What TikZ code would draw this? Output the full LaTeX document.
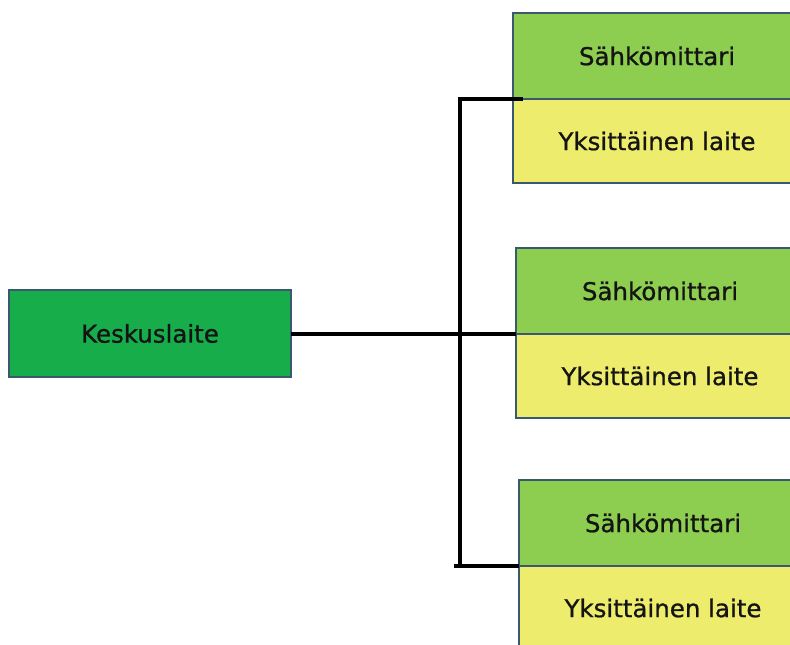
\documentclass[tikz,border=0pt]{standalone}
\usepackage{fontspec}
\setmainfont{DejaVu Sans}[FakeBold=0.8]
\definecolor{metergreen}{HTML}{8DCE50}
\definecolor{deviceyellow}{HTML}{EEEC6C}
\definecolor{centralgreen}{HTML}{17AD4B}
\definecolor{boxborder}{HTML}{3A5870}
\definecolor{txt}{HTML}{141414}
\tikzset{
  cell/.style={draw=boxborder, line width=2.8pt, rectangle, inner sep=0pt, outer sep=0pt, anchor=north west,
    font=\fontsize{24.5}{28}\selectfont, text=txt},
  meter/.style={cell, fill=metergreen, minimum width=288pt, minimum height=86pt},
  device/.style={cell, fill=deviceyellow, minimum width=288pt, minimum height=84pt},
  central/.style={cell, fill=centralgreen, minimum width=282pt, minimum height=87pt},
  conn/.style={draw=black, line width=3.2pt}
}
\begin{document}
\begin{tikzpicture}[x=1pt,y=-1pt]
\useasboundingbox (0,0) rectangle (790,645);
\clip (0,0) rectangle (790,645);
\node[central] (k) at (9,290) {Keskuslaite};
\node[meter] (m1) at (513,13) {Sähkömittari};
\node[device] (d1) at (513,99) {Yksittäinen laite};
\node[meter] (m2) at (516,248) {Sähkömittari};
\node[device] (d2) at (516,334) {Yksittäinen laite};
\node[meter] (m3) at (519,480) {Sähkömittari};
\node[device] (d3) at (519,566) {Yksittäinen laite};
\coordinate (bt) at ([xshift=-53pt]m1.south west);
\coordinate (bb) at (bt |- m3.south west);
\coordinate (tail) at ([xshift=-6pt]bb);
\draw[conn] ([xshift=10pt]m1.south west) -- (bt) -- (bb);
\draw[conn] (tail) -- (m3.south west);
\draw[conn] (k.east |- m2.south west) -- (m2.south west);
\end{tikzpicture}
\end{document}
